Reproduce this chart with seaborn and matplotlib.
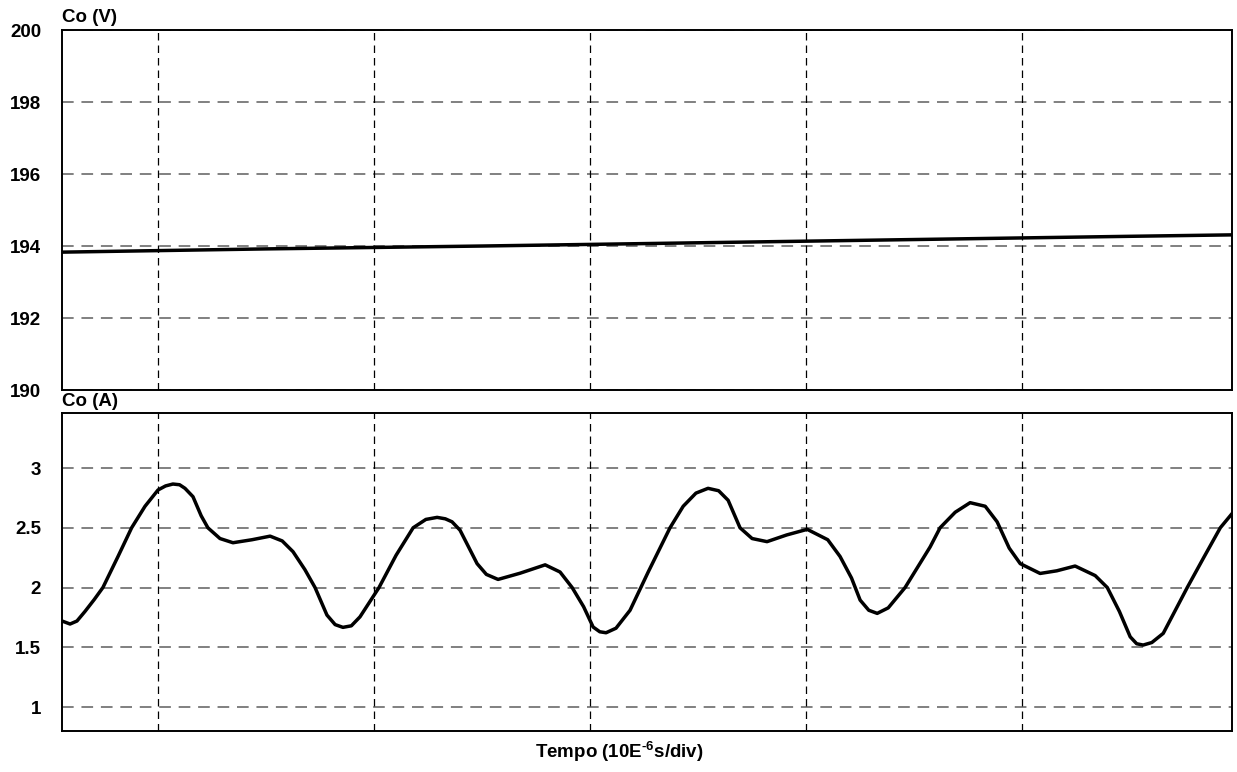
import numpy as np
import pandas as pd
import matplotlib
matplotlib.use("Agg")
import matplotlib.pyplot as plt
import seaborn as sns

# Time axis in microseconds (10 us per division)
t_voltage = [5.56, 15.0, 25.0, 35.0, 45.0, 55.0, 59.72]
co_voltage = [193.83, 193.92, 194.00, 194.09, 194.18, 194.27, 194.31]

t_current = [5.56, 5.93, 6.25, 6.62, 7.05, 7.45, 7.80, 8.15, 8.78, 9.40, 10.00,
             10.35, 10.69, 11.00, 11.25, 11.62, 12.00, 12.31, 12.87, 13.47, 14.35,
             15.19, 15.75, 16.25, 16.80, 17.27, 17.82, 18.20, 18.56, 18.95, 19.35,
             20.23, 21.02, 21.81, 22.40, 22.92, 23.30, 23.61, 23.98, 24.77, 25.20,
             25.74, 26.76, 27.92, 28.61, 29.17, 29.70, 30.14, 30.45, 30.74, 31.20,
             31.85, 32.69, 33.70, 34.31, 34.90, 35.46, 35.95, 36.39, 36.94, 37.50,
             38.19, 39.10, 40.05, 41.00, 41.57, 42.10, 42.50, 42.90, 43.29, 43.80,
             44.58, 45.74, 46.20, 46.90, 47.59, 48.29, 48.84, 49.40, 49.91, 50.83,
             51.60, 52.45, 53.38, 53.94, 54.50, 55.00, 55.30, 55.60, 56.00, 56.53,
             57.64, 58.40, 59.17, 59.72]
co_current = [1.72, 1.695, 1.72, 1.80, 1.90, 2.00, 2.13, 2.26, 2.50, 2.68, 2.816,
              2.85, 2.866, 2.86, 2.83, 2.76, 2.60, 2.50, 2.41, 2.375, 2.40,
              2.43, 2.39, 2.30, 2.15, 2.00, 1.77, 1.69, 1.667, 1.68, 1.755,
              2.00, 2.27, 2.50, 2.57, 2.587, 2.575, 2.55, 2.48, 2.20, 2.11,
              2.068, 2.12, 2.19, 2.13, 2.00, 1.84, 1.67, 1.63, 1.622, 1.66,
              1.81, 2.13, 2.50, 2.68, 2.79, 2.83, 2.81, 2.73, 2.50, 2.41,
              2.384, 2.44, 2.487, 2.40, 2.26, 2.08, 1.895, 1.81, 1.784, 1.83,
              2.00, 2.34, 2.50, 2.63, 2.71, 2.68, 2.55, 2.33, 2.20, 2.118,
              2.14, 2.18, 2.10, 2.00, 1.80, 1.588, 1.53, 1.519, 1.54, 1.617,
              2.00, 2.25, 2.50, 2.62]

volt_df = pd.DataFrame({"t": t_voltage, "v": co_voltage})
curr_df = pd.DataFrame({"t": t_current, "i": co_current})

volt_ticks = [190, 192, 194, 196, 198, 200]
volt_labels = ["190", "192", "194", "196", "198", "200"]
curr_ticks = [1, 1.5, 2, 2.5, 3]
curr_labels = ["1", "1.5", "2", "2.5", "3"]
div_lines = [10, 20, 30, 40, 50]

sns.set_style("white")
plt.rcParams["font.family"] = ["Liberation Sans", "DejaVu Sans"]
plt.rcParams["font.weight"] = "bold"
plt.rcParams["text.color"] = "black"
plt.rcParams["ytick.color"] = "black"
plt.rcParams["mathtext.fontset"] = "custom"
plt.rcParams["mathtext.rm"] = "Liberation Sans:bold"
plt.rcParams["mathtext.bf"] = "Liberation Sans:bold"

fig = plt.figure(figsize=(12.37, 7.72), dpi=100)
ax_v = fig.add_axes([0.0501, 0.4948, 0.9460, 0.4663])
ax_i = fig.add_axes([0.0501, 0.0531, 0.9460, 0.4119])

xlim = (5.556, 59.72)
FS = 13.5


def style_axis(ax, ticks, labels, ylim, title):
    ax.set_xlim(*xlim)
    ax.set_ylim(*ylim)
    ax.set_xticks([])
    ax.set_yticks(ticks)
    ax.set_yticklabels(labels, fontsize=FS, fontweight="bold", color="black")
    ax.tick_params(axis="y", length=0, pad=15)
    for y in ticks:
        ax.axhline(y, color="#808080", lw=1.4, dashes=(6, 4), zorder=1)
    for x in div_lines:
        ax.axvline(x, color="black", lw=0.9, dashes=(6, 4), zorder=1)
    for s in ax.spines.values():
        s.set_visible(True)
        s.set_color("black")
        s.set_linewidth(1.4)
    ax.set_xlabel("")
    ax.set_ylabel("")
    ax.text(0.0, 1.01, title, transform=ax.transAxes, ha="left", va="bottom",
            fontsize=FS, fontweight="bold", color="black")


sns.lineplot(data=volt_df, x="t", y="v", ax=ax_v, color="black", lw=2.5, zorder=3)
style_axis(ax_v, volt_ticks, volt_labels, (190, 200), "Co (V)")

sns.lineplot(data=curr_df, x="t", y="i", ax=ax_i, color="black", lw=2.5, zorder=3)
style_axis(ax_i, curr_ticks, curr_labels, (0.80, 3.46), "Co (A)")

fig.text(0.5005, 0.010, r"Tempo (10E$^{\text{-6}}$s/div)", ha="center", va="bottom",
         fontsize=FS, fontweight="bold", color="black")

fig.savefig("out.png", dpi=100)
